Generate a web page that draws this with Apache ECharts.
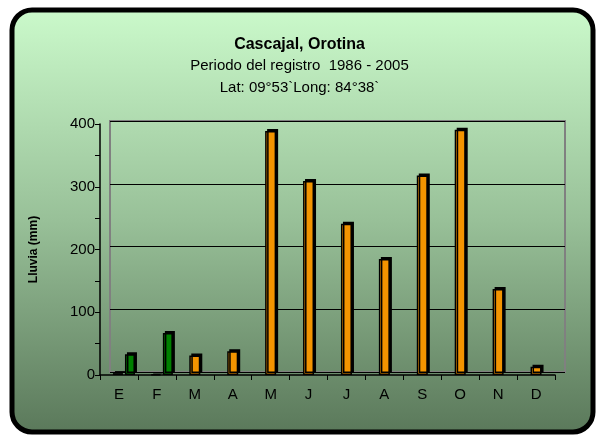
<!DOCTYPE html>
<html>
<head>
<meta charset="utf-8">
<script src="https://cdn.jsdelivr.net/npm/echarts@6/dist/echarts.min.js"></script>
<style>
html,body{margin:0;padding:0;background:#fff;}
#chart{width:599px;height:439px;}
</style>
</head>
<body>
<div id="chart"></div>
<script>
const months = ['E','F','M','A','M','J','J','A','S','O','N','D'];
const seriesBlack = [3, 1, null, null, null, null, null, null, null, null, null, null];
const seriesGreen = [33, 67, null, null, null, null, null, null, null, null, null, null];
const seriesOrange = [null, null, 31, 38, 389, 309, 241, 185, 318, 391, 137, 13];
const yTicks = [0, 100, 200, 300, 400];
const titleLines = ['Cascajal, Orotina', 'Periodo del registro  1986 - 2005', 'Lat: 09°53`Long: 84°38`'];
const yName = 'Lluvia (mm)';

const chart = echarts.init(document.getElementById('chart'), null, {renderer: 'canvas'});
const FONT = 'Liberation Sans, Arial, sans-serif';
const yMin = yTicks[0], yMax = yTicks[yTicks.length - 1], yInt = yTicks[1] - yTicks[0];

const barStyle = (color) => ({
  color: color,
  borderColor: '#000',
  borderWidth: 1.5,
  shadowColor: '#000',
  shadowBlur: 0,
  shadowOffsetX: 2,
  shadowOffsetY: -2
});

chart.setOption({
  backgroundColor: '#ffffff',
  animation: false,
  graphic: [{
    type: 'rect',
    z: -100,
    silent: true,
    shape: {x: 12, y: 10, width: 581, height: 422, r: 20},
    style: {
      fill: {
        type: 'linear', x: 0, y: 0, x2: 0, y2: 1,
        colorStops: [
          {offset: 0, color: '#cbfacb'},
          {offset: 0.5, color: '#98c098'},
          {offset: 1, color: '#5a785a'}
        ]
      },
      stroke: '#000',
      lineWidth: 5
    }
  }],
  title: [
    {text: titleLines[0], left: 'center', top: 32,
     textStyle: {fontFamily: FONT, fontSize: 16, fontWeight: 'bold', color: '#000'}},
    {text: titleLines[1], left: 'center', top: 53,
     textStyle: {fontFamily: FONT, fontSize: 15, fontWeight: 'normal', color: '#000'}},
    {text: titleLines[2], left: 'center', top: 75,
     textStyle: {fontFamily: FONT, fontSize: 15, fontWeight: 'normal', color: '#000'}}
  ],
  grid: [
    {left: 100, right: 44, top: 124, bottom: 64},
    {left: 110, right: 34, top: 121, bottom: 67, show: true, borderColor: '#808080', borderWidth: 2, backgroundColor: 'transparent'},
    {left: 105, right: 39, top: 124, bottom: 64}
  ],
  xAxis: [
    {type: 'category', gridIndex: 0, data: months,
     axisLine: {lineStyle: {color: '#000', width: 1.5}},
     axisTick: {show: true, length: 5, lineStyle: {color: '#000'}},
     axisLabel: {color: '#000', fontFamily: FONT, fontSize: 15, margin: 12},
     splitLine: {show: false}},
    {type: 'category', gridIndex: 1, data: months, show: false},
    {type: 'category', gridIndex: 2, data: months, show: false}
  ],
  yAxis: [
    {type: 'value', gridIndex: 0, min: yMin, max: yMax, interval: yInt,
     name: yName, nameLocation: 'middle', nameGap: 60, nameRotate: 90,
     nameTextStyle: {fontFamily: FONT, fontSize: 12, fontWeight: 'bold', color: '#000'},
     axisLine: {show: true, lineStyle: {color: '#000', width: 1.5}},
     axisTick: {show: true, length: 5, lineStyle: {color: '#000'}},
     minorTick: {show: true, splitNumber: 2, length: 5, lineStyle: {color: '#000'}},
     axisLabel: {color: '#000', fontFamily: FONT, fontSize: 15, margin: 5},
     splitLine: {show: false}},
    {type: 'value', gridIndex: 1, min: yMin, max: yMax, interval: yInt,
     axisLine: {show: false}, axisTick: {show: false}, axisLabel: {show: false},
     splitLine: {show: true, lineStyle: {color: '#000', width: 1}}},
    {type: 'value', gridIndex: 2, min: yMin, max: yMax, interval: yInt, show: false,
     splitLine: {show: false}}
  ],
  series: [
    {type: 'bar', name: 'black', xAxisIndex: 2, yAxisIndex: 2, data: seriesBlack,
     barWidth: 10, barGap: '20%', itemStyle: barStyle('#000000'), z: 3},
    {type: 'bar', name: 'green', xAxisIndex: 2, yAxisIndex: 2, data: seriesGreen,
     barWidth: 10, barGap: '20%', itemStyle: barStyle('#008000'), z: 3},
    {type: 'bar', name: 'orange', xAxisIndex: 0, yAxisIndex: 0, data: seriesOrange,
     barWidth: 11, itemStyle: barStyle('#f39400'), z: 3}
  ]
});
</script>
</body>
</html>
